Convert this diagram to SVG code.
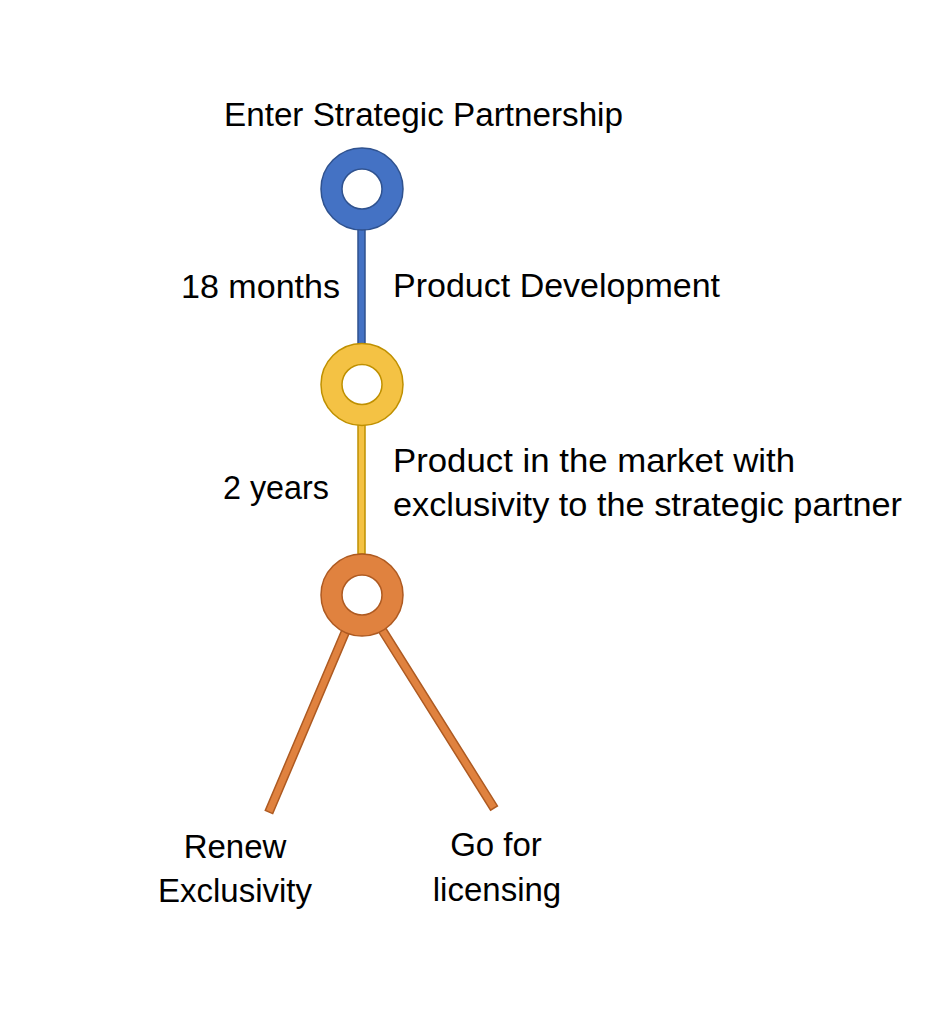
<svg xmlns="http://www.w3.org/2000/svg" width="941" height="1011" viewBox="0 0 941 1011">
<style>
text{font-family:"Liberation Sans",Arial,sans-serif;font-size:33px;fill:#000}
.blue{fill:#4472C4;stroke:#2F528F;stroke-width:1.5}
.yellow{fill:#F4C244;stroke:#BF9000;stroke-width:1.5}
.orange{fill:#E0823F;stroke:#AE5A21;stroke-width:1.5}
</style>
<rect width="941" height="1011" fill="#fff"/>
<g id="connectors">
<rect class="blue" x="358" y="228" width="7" height="116"/>
<rect class="yellow" x="358" y="424" width="7" height="130"/>
<polygon class="orange" points="350.7,629.6 343.3,626.4 265.3,810.4 272.7,813.6"/>
<polygon class="orange" points="382.4,622.9 375.6,627.1 490.6,810.1 497.4,805.9"/>
</g>
<g id="node-start">
<path class="blue" fill-rule="evenodd" d="M321,189a41,41 0 1,0 82,0a41,41 0 1,0 -82,0zM342,189a20,20 0 1,0 40,0a20,20 0 1,0 -40,0z"/>
<text x="224" y="126" textLength="399" lengthAdjust="spacingAndGlyphs">Enter Strategic Partnership</text>
</g>
<g id="node-dev">
<path class="yellow" fill-rule="evenodd" d="M321,384.5a41,41 0 1,0 82,0a41,41 0 1,0 -82,0zM342,384.5a20,20 0 1,0 40,0a20,20 0 1,0 -40,0z"/>
</g>
<g id="node-market">
<path class="orange" fill-rule="evenodd" d="M321,595a41,41 0 1,0 82,0a41,41 0 1,0 -82,0zM342,595a20,20 0 1,0 40,0a20,20 0 1,0 -40,0z"/>
</g>
<g id="labels">
<text x="181" y="298" textLength="159" lengthAdjust="spacingAndGlyphs">18 months</text>
<text x="393" y="297" textLength="327" lengthAdjust="spacingAndGlyphs">Product Development</text>
<text x="223" y="499" textLength="106" lengthAdjust="spacingAndGlyphs">2 years</text>
<text x="393" y="472" textLength="402" lengthAdjust="spacingAndGlyphs">Product in the market with</text>
<text x="393" y="516" textLength="509" lengthAdjust="spacingAndGlyphs">exclusivity to the strategic partner</text>
</g>
<g id="node-renew">
<text x="235" y="858" text-anchor="middle">Renew</text>
<text x="235" y="902" text-anchor="middle">Exclusivity</text>
</g>
<g id="node-licensing">
<text x="496" y="856" text-anchor="middle">Go for</text>
<text x="497" y="901" text-anchor="middle">licensing</text>
</g>
</svg>
